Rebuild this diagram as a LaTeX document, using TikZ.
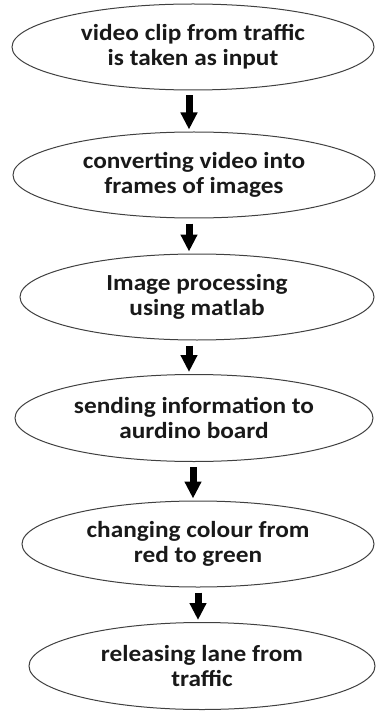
\documentclass[tikz,border=0pt]{standalone}
\usepackage{fontspec}
\setmainfont{Carlito}[FakeStretch=1.1]
\usetikzlibrary{shapes.geometric,arrows.meta}
\begin{document}
\begin{tikzpicture}[x=1pt, y=1pt]

    \tikzset{ovalblock/.style={%
      draw=black!75,%
      line width=1pt,%
      ellipse,%
      inner sep=0pt,%
      minimum width=362pt,%
      minimum height=86pt,%
      align=center,%
      text=black!90,%
      font=\fontsize{23}{25}\selectfont\bfseries}%
    };

    \tikzset{flowarrow/.style={%
      line width=7pt,%
      -{Triangle[length=17pt, width=16pt]},%
      shorten <=5pt,%
      shorten >=2pt}%
    };

    \useasboundingbox (0,0) rectangle (376,-711);

    %%%%%%%%%%%%%%%
    % steps       %
    %%%%%%%%%%%%%%%
    \node [ovalblock] (clip) at (193,-47) {video clip from traffic\\is taken as input};

    \node [ovalblock] (frames) at (194,-175) {converting video into\\frames of images};

    \node [ovalblock, minimum width=354pt] (proc) at (197,-297) {Image processing\\using matlab};

    \node [ovalblock, minimum width=358pt, minimum height=87pt] (send) at (194,-418) {sending information to\\aurdino board};

    \node [ovalblock, minimum width=352pt] (colour) at (198,-544) {changing colour from\\red to green};

    \node [ovalblock, minimum width=346pt, minimum height=87pt] (release) at (202,-666) {releasing lane from\\traffic};

    \draw [flowarrow] (clip.south -| 189,0) -- (frames.north -| 189,0);
    \draw [flowarrow] (frames.south -| 189,0) -- (proc.north -| 189,0);
    \draw [flowarrow] (proc.south -| 189,0) -- (send.north -| 189,0);
    \draw [flowarrow] (send.south -| 193,0) -- (colour.north -| 193,0);
    \draw [flowarrow] (colour.south -| 198,0) -- (release.north -| 198,0);

  \end{tikzpicture}
\end{document}
